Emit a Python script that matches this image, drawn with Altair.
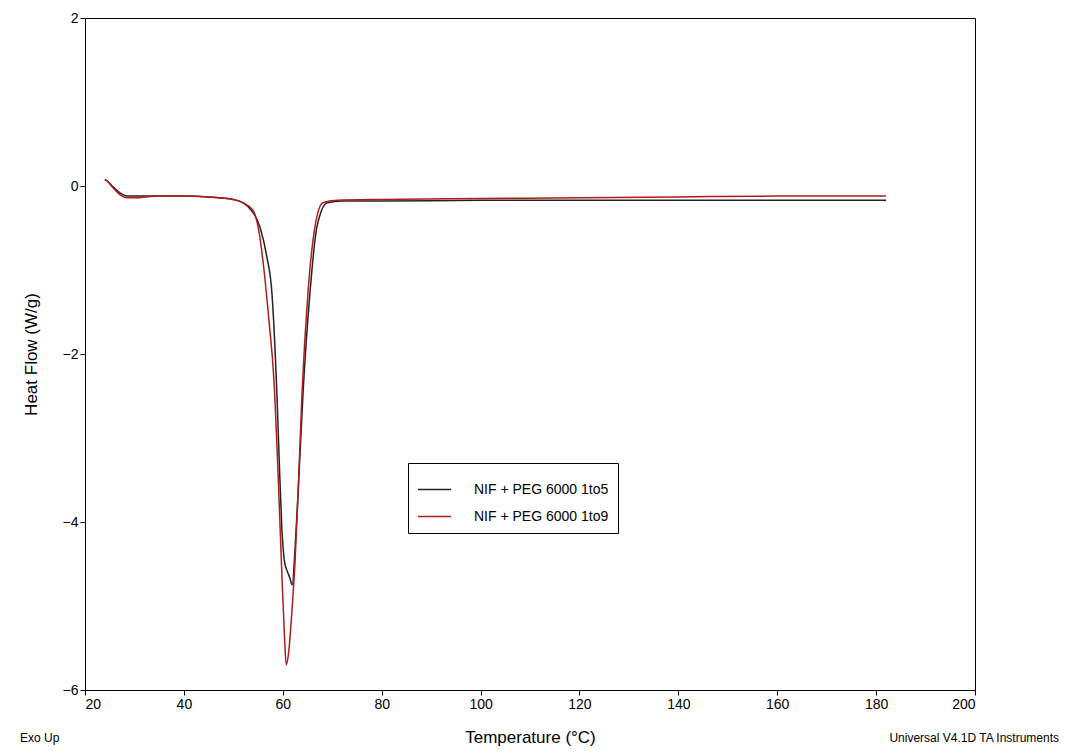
import altair as alt
import pandas as pd

t5 = [24, 24.5, 25.5, 27, 28.5, 30, 35, 40, 45, 50, 52, 53.5, 55.4, 56.8, 57.8, 58.8, 59.3, 59.8, 60.3, 60.8, 61.4, 61.9, 62.5, 63.1, 64.1, 65.5, 66.9, 69, 72, 80, 100, 120, 140, 160, 182]
h5 = [0.07, 0.06, 0.0, -0.08, -0.12, -0.12, -0.12, -0.12, -0.13, -0.16, -0.2, -0.28, -0.49, -0.85, -1.27, -2.46, -3.3, -4.06, -4.45, -4.57, -4.66, -4.75, -4.3, -3.65, -2.46, -1.27, -0.49, -0.2, -0.18, -0.18, -0.17, -0.17, -0.17, -0.17, -0.17]
t9 = [24, 24.5, 25.5, 27, 28.5, 30, 35, 40, 45, 50, 52, 54, 55.2, 56.2, 57.2, 58.2, 59.1, 59.8, 60.3, 60.7, 61.2, 61.8, 62.5, 63.2, 63.9, 65.1, 66.5, 68.1, 71, 80, 100, 120, 140, 160, 182]
h9 = [0.08, 0.06, -0.01, -0.1, -0.14, -0.14, -0.12, -0.12, -0.13, -0.16, -0.2, -0.29, -0.55, -1.0, -1.6, -2.3, -3.5, -4.6, -5.3, -5.7, -5.55, -5.1, -4.45, -3.5, -2.46, -1.27, -0.49, -0.2, -0.17, -0.16, -0.15, -0.14, -0.13, -0.12, -0.12]

s5 = "NIF + PEG 6000 1to5"
s9 = "NIF + PEG 6000 1to9"
df = pd.concat([
    pd.DataFrame({"T": t5, "H": h5, "s": s5, "o": range(len(t5))}),
    pd.DataFrame({"T": t9, "H": h9, "s": s9, "o": range(len(t9))}),
])

line = alt.Chart(df).mark_line(strokeWidth=1.5, interpolate="monotone").encode(
    x=alt.X("T:Q", scale=alt.Scale(domain=[20, 200], nice=False),
            axis=alt.Axis(values=list(range(20, 201, 20)), title="Temperature (°C)",
                          titleFontSize=17, titleFontWeight="normal", titlePadding=18, labelFontSize=14,
                          grid=False, domainColor="black", tickColor="black", labelColor="black")),
    y=alt.Y("H:Q", scale=alt.Scale(domain=[-6, 2], nice=False),
            axis=alt.Axis(values=[-6, -4, -2, 0, 2], title="Heat Flow (W/g)", titleFontSize=17,
                          titleFontWeight="normal", titlePadding=22, labelFontSize=14, grid=False,
                          domainColor="black", tickColor="black", labelColor="black")),
    color=alt.Color("s:N", scale=alt.Scale(domain=[s5, s9], range=["#222222", "#b01c1c"]),
                    legend=alt.Legend(title=None, orient="none", legendX=323, legendY=445,
                                      strokeColor="black", fillColor="white", padding=9,
                                      labelFontSize=14, symbolType="stroke", symbolSize=1100,
                                      symbolStrokeWidth=1.5, labelColor="black", labelOffset=22)),
    order="o:Q",
    detail="s:N",
)

notes = pd.DataFrame({"x": [20, 200], "label": ["Exo Up", "Universal V4.1D TA Instruments"]})
left = alt.Chart(notes.iloc[[0]]).mark_text(align="left", fontSize=12, dy=48, dx=-65, color="black").encode(
    x="x:Q", y=alt.value(672), text="label:N")
right = alt.Chart(notes.iloc[[1]]).mark_text(align="right", fontSize=12, dy=48, dx=84, color="black").encode(
    x="x:Q", y=alt.value(672), text="label:N")

chart = alt.layer(line, left, right).properties(
    width=890, height=672,
    autosize=alt.AutoSizeParams(type="none"),
    padding={"left": 77, "top": 10, "right": 88, "bottom": 60},
).configure_view(stroke="black").configure_axis(labelFont="Liberation Sans", titleFont="Liberation Sans"
).configure_legend(labelFont="Liberation Sans").configure_text(font="Liberation Sans")

chart.save("out.html", embed_options={"renderer": "svg", "actions": False})
